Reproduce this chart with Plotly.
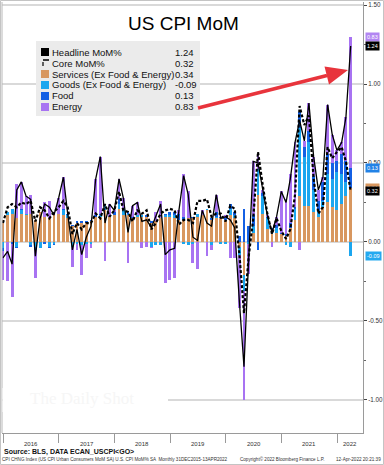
import calendar
import plotly.graph_objects as go

# ---------------- data (Dec 2015 .. Mar 2022, monthly) ----------------
start_year, start_month, n_months = 2015, 12, 76
months = []
yy, mm = start_year, start_month
for _ in range(n_months):
    months.append(f"{yy}-{mm:02d}-{calendar.monthrange(yy, mm)[1]:02d}")
    mm += 1
    if mm > 12:
        mm, yy = 1, yy + 1

services = [0.14, 0.17, 0.18, 0.15, 0.18, 0.17, 0.18, 0.14, 0.19, 0.16, 0.15, 0.17, 0.18,
            0.17, 0.15, 0.10, 0.12, 0.12, 0.12, 0.13, 0.16, 0.16, 0.20, 0.16, 0.17,
            0.21, 0.17, 0.17, 0.15, 0.16, 0.16, 0.16, 0.12, 0.13, 0.15, 0.16, 0.16,
            0.15, 0.14, 0.14, 0.15, 0.15, 0.16, 0.17, 0.20, 0.14, 0.15, 0.15, 0.14,
            0.17, 0.15, -0.03, -0.21, 0.00, 0.06, 0.30, 0.18, 0.08, 0.05, 0.06, 0.05,
            0.04, 0.09, 0.14, 0.29, 0.23, 0.23, 0.19, 0.16, 0.22, 0.25, 0.22, 0.20,
            0.24, 0.29, 0.34]
goods = [-0.04, 0.02, 0.03, -0.03, 0.02, 0.01, -0.02, -0.03, -0.04, 0.00, -0.03, -0.01, 0.00,
         0.03, 0.02, -0.03, -0.01, -0.02, -0.01, -0.01, 0.00, 0.01, 0.04, 0.00, 0.00,
         0.03, 0.04, 0.01, 0.00, 0.01, 0.01, 0.00, -0.03, -0.02, -0.02, 0.01, 0.01,
         0.02, 0.00, -0.01, -0.02, -0.01, 0.02, 0.00, 0.01, -0.02, 0.01, -0.01, -0.01,
         0.04, 0.02, -0.05, -0.10, -0.01, 0.04, 0.16, 0.11, 0.07, 0.01, 0.03, 0.00,
         -0.02, -0.03, 0.07, 0.43, 0.31, 0.40, 0.14, 0.04, 0.04, 0.18, 0.18, 0.24,
         0.19, 0.09, -0.09]
food = [-0.02, 0.00, -0.01, -0.01, 0.01, 0.00, -0.01, -0.02, 0.00, -0.01, -0.01, -0.01, 0.00,
        0.01, 0.01, 0.01, 0.01, 0.01, 0.01, 0.01, 0.01, 0.01, 0.00, 0.00, 0.02,
        0.03, 0.00, 0.01, 0.01, 0.00, 0.00, 0.01, 0.01, 0.00, 0.00, 0.01, 0.02,
        0.02, 0.04, 0.02, 0.00, 0.01, 0.00, 0.00, 0.00, 0.01, 0.03, 0.01, 0.01,
        0.03, 0.02, 0.04, 0.21, 0.10, 0.07, -0.05, 0.02, 0.01, 0.03, 0.02, 0.01,
        0.01, 0.03, 0.01, 0.10, 0.06, 0.07, 0.09, 0.06, 0.12, 0.13, 0.10, 0.07,
        0.13, 0.13, 0.13]
energy = [-0.18, -0.25, -0.34, 0.22, 0.17, 0.11, 0.12, -0.18, 0.00, 0.09, 0.11, 0.02, 0.10,
          0.20, 0.00, -0.13, -0.04, -0.19, -0.09, -0.03, 0.23, 0.36, -0.12, 0.08, 0.01,
          0.13, 0.07, -0.13, 0.07, 0.08, -0.04, -0.03, -0.01, 0.06, 0.11, -0.26, -0.24,
          -0.23, 0.02, 0.27, 0.17, -0.12, -0.17, 0.03, -0.09, -0.03, 0.11, 0.00, 0.02,
          -0.10, -0.10, -0.34, -0.69, -0.19, 0.34, 0.09, 0.02, 0.01, -0.03, 0.05, 0.26,
          0.22, 0.31, 0.41, -0.05, 0.04, 0.18, 0.12, 0.07, 0.03, 0.31, 0.18, 0.07,
          0.07, 0.28, 0.83]
headline = [-0.10, -0.06, -0.14, 0.33, 0.38, 0.29, 0.27, -0.09, 0.15, 0.24, 0.22, 0.17, 0.28,
            0.41, 0.18, -0.05, 0.08, -0.08, 0.03, 0.10, 0.40, 0.54, 0.12, 0.24, 0.20,
            0.40, 0.28, 0.06, 0.23, 0.25, 0.13, 0.14, 0.09, 0.17, 0.24, -0.08, -0.05,
            -0.04, 0.20, 0.42, 0.30, 0.03, 0.01, 0.20, 0.12, 0.10, 0.30, 0.15, 0.16,
            0.14, 0.09, -0.38, -0.79, -0.10, 0.51, 0.50, 0.33, 0.17, 0.06, 0.16, 0.32,
            0.25, 0.40, 0.63, 0.77, 0.64, 0.88, 0.54, 0.33, 0.41, 0.87, 0.68, 0.58,
            0.63, 0.79, 1.24]
core = [0.12, 0.22, 0.24, 0.22, 0.25, 0.24, 0.26, 0.13, 0.22, 0.20, 0.15, 0.19, 0.22,
        0.26, 0.22, 0.05, 0.12, 0.08, 0.12, 0.12, 0.18, 0.15, 0.24, 0.16, 0.20,
        0.32, 0.20, 0.19, 0.13, 0.20, 0.18, 0.20, 0.08, 0.12, 0.18, 0.20, 0.21,
        0.20, 0.11, 0.14, 0.14, 0.12, 0.26, 0.26, 0.27, 0.16, 0.18, 0.18, 0.13,
        0.23, 0.21, -0.08, -0.45, -0.09, 0.15, 0.57, 0.36, 0.18, 0.05, 0.15, 0.07,
        0.02, 0.08, 0.30, 0.86, 0.74, 0.80, 0.40, 0.18, 0.22, 0.60, 0.53, 0.57,
        0.60, 0.51, 0.32]

series_names = ["Headline MoM%", "Core MoM%", "Services (Ex Food & Energy)",
                "Goods (Ex Food & Energy)", "Food", "Energy"]
last_values = ["1.24", "0.32", "0.34", "-0.09", "0.13", "0.83"]
year_labels = ["2016", "2017", "2018", "2019", "2020", "2021", "2022"]
year_label_pos = ["2016-07-02", "2017-07-02", "2018-07-02", "2019-07-02",
                  "2020-07-02", "2021-07-02", "2022-03-28"]
y_ticks = [-1.0, -0.5, 0.0, 0.5, 1.0, 1.5]

# ---------------- styling ----------------
C_SERV = "#D8975F"
C_GOODS = "#1BA6EF"
C_FOOD = "#1460E4"
C_ENERGY = "#A873F2"
FONT = "Liberation Sans"

W, H = 384, 465
PL, PR, PT, PB = 2, 363, 2, 433   # plot area in pixels


def px(x):
    return (x - PL) / (PR - PL)


def py(y):
    return (PB - y) / (PB - PT)


bar_w = 19 * 86400000

fig = go.Figure()
for name, vals, col in [(series_names[2], services, C_SERV),
                        (series_names[3], goods, C_GOODS),
                        (series_names[4], food, C_FOOD),
                        (series_names[5], energy, C_ENERGY)]:
    fig.add_trace(go.Bar(x=months, y=vals, name=name, marker_color=col,
                         marker_line_width=0, width=bar_w, showlegend=False))

fig.add_trace(go.Scatter(x=months, y=headline, mode="lines", name=series_names[0],
                         line=dict(color="black", width=1.3), showlegend=False))
fig.add_trace(go.Scatter(x=months, y=core, mode="lines", name=series_names[1],
                         line=dict(color="black", width=2.2, dash="3px,2px"),
                         showlegend=False))

shapes = []
ann = []

# outer border and left frame
shapes.append(dict(type="rect", xref="paper", yref="paper", x0=px(0.5), x1=px(383.5),
                   y0=py(0.5), y1=py(464.5), line=dict(color="#c4c4c4", width=1),
                   layer="above"))
shapes.append(dict(type="line", xref="paper", yref="paper", x0=px(2), x1=px(2),
                   y0=py(PT), y1=py(PB), line=dict(color="#b8b8b8", width=1)))

# watermark box covering gridline
shapes.append(dict(type="rect", xref="paper", yref="paper", x0=px(2.5), x1=px(168),
                   y0=py(412), y1=py(388), fillcolor="white", line=dict(width=0),
                   layer="above"))
ann.append(dict(text="The Daily Shot", xref="paper", yref="paper", x=px(28), y=py(398),
                xanchor="left", yanchor="middle", showarrow=False,
                font=dict(family="Liberation Serif", size=17, color="#f6f6f6")))

# legend box
shapes.append(dict(type="rect", xref="paper", yref="paper", x0=px(36), x1=px(200),
                   y0=py(116), y1=py(41), fillcolor="#EBEBEB", line=dict(width=0),
                   layer="above"))
row_y = [52, 63, 74, 85, 96, 107]
sw_cols = ["black", None, C_SERV, C_GOODS, C_FOOD, C_ENERGY]
for i in range(6):
    yc = row_y[i]
    if sw_cols[i] is not None:
        shapes.append(dict(type="rect", xref="paper", yref="paper", x0=px(41), x1=px(49),
                           y0=py(yc + 4), y1=py(yc - 4), fillcolor=sw_cols[i],
                           line=dict(width=0), layer="above"))
    else:
        shapes.append(dict(type="line", xref="paper", yref="paper", x0=px(43), x1=px(49),
                           y0=py(yc - 3), y1=py(yc - 3),
                           line=dict(color="black", width=1.5), layer="above"))
        shapes.append(dict(type="line", xref="paper", yref="paper", x0=px(43), x1=px(43),
                           y0=py(yc - 1), y1=py(yc + 3),
                           line=dict(color="black", width=1.2), layer="above"))
    ann.append(dict(text=series_names[i], xref="paper", yref="paper", x=px(51), y=py(yc),
                    xanchor="left", yanchor="middle", showarrow=False, borderpad=0,
                    font=dict(family=FONT, size=9.5, color="#111")))
    ann.append(dict(text=last_values[i], xref="paper", yref="paper", x=px(174), y=py(yc),
                    xanchor="left", yanchor="middle", showarrow=False, borderpad=0,
                    font=dict(family=FONT, size=9.5, color="#111")))

# title
ann.append(dict(text="US CPI MoM", xref="paper", yref="paper", x=px(183), y=py(23),
                xanchor="center", yanchor="middle", showarrow=False,
                font=dict(family=FONT, size=19, color="black")))

# red arrow
tail = (198, 108)
base = (327, 75.5)
shapes.append(dict(type="line", xref="paper", yref="paper", x0=px(tail[0]), y0=py(tail[1]),
                   x1=px(base[0]), y1=py(base[1]), line=dict(color="#E8343C", width=3.5),
                   layer="above"))
tri = [(348, 70), (329, 84.5), (324.5, 66.5)]
path = "M {} {} L {} {} L {} {} Z".format(px(tri[0][0]), py(tri[0][1]), px(tri[1][0]),
                                           py(tri[1][1]), px(tri[2][0]), py(tri[2][1]))
shapes.append(dict(type="path", xref="paper", yref="paper", path=path,
                   fillcolor="#E8343C", line=dict(width=0), layer="above"))

# right-side value tags
tag_specs = [(energy[-1] + food[-1] + services[-1], last_values[5], "#B286F2"),
             (headline[-1], last_values[0], "#000000"),
             (services[-1] + food[-1], last_values[4], "#2282E6"),
             (services[-1], last_values[2], C_SERV),
             (core[-1], last_values[1], "#000000"),
             (goods[-1], last_values[3], "#24A9F0")]
for yv, txt, col in tag_specs:
    ann.append(dict(text=txt, xref="paper", yref="y", x=px(365), y=yv, xanchor="left",
                    yanchor="middle", showarrow=False, bgcolor=col, borderpad=1,
                    font=dict(family=FONT, size=5.5, color="white")))

# year labels
for lab, pos in zip(year_labels, year_label_pos):
    ann.append(dict(text=lab, xref="x", yref="paper", x=pos, y=py(444), xanchor="center",
                    yanchor="middle", showarrow=False,
                    font=dict(family=FONT, size=6, color="#333")))

# footer
ann.append(dict(text="<b>Source: BLS, DATA ECAN_USCPI&lt;GO&gt;</b>", xref="paper",
                yref="paper", x=px(2), y=py(451.5), xanchor="left", yanchor="middle",
                showarrow=False, font=dict(family=FONT, size=7, color="#111")))
ann.append(dict(text="CPI CHNG Index (US CPI Urban Consumers MoM SA) U.S. CPI MoM% SA  "
                     "Monthly 31DEC2015-13APR2022",
                xref="paper", yref="paper", x=px(0), y=py(459.5), xanchor="left",
                yanchor="middle", showarrow=False,
                font=dict(family=FONT, size=4.6, color="#333")))
ann.append(dict(text="Copyright\u00a9 2022 Bloomberg Finance L.P.", xref="paper",
                yref="paper", x=px(238), y=py(459.5), xanchor="left", yanchor="middle",
                showarrow=False, font=dict(family=FONT, size=4.6, color="#333")))
ann.append(dict(text="12-Apr-2022 20:21:39", xref="paper", yref="paper", x=px(383),
                y=py(459.5), xanchor="right", yanchor="middle", showarrow=False,
                font=dict(family=FONT, size=4.6, color="#333")))

fig.update_layout(
    width=W, height=H,
    margin=dict(l=PL, r=W - PR, t=PT, b=H - PB, autoexpand=False),
    paper_bgcolor="white", plot_bgcolor="white",
    barmode="relative", bargap=0,
    showlegend=False,
    shapes=shapes, annotations=ann,
    xaxis=dict(range=["2015-12-25", "2022-06-20"], type="date", showgrid=False,
               zeroline=False, showline=True, linecolor="#9a9a9a", linewidth=1,
               showticklabels=False, ticks="", automargin=False,
               minor=dict(ticks="outside", tickmode="array",
                          tickvals=["2016-01-01", "2017-01-01", "2018-01-01", "2019-01-01",
                                    "2020-01-01", "2021-01-01", "2022-01-01"],
                          ticklen=9, tickcolor="#9a9a9a", tickwidth=1)),
    yaxis=dict(range=[-1.209, 1.519], side="right", tickmode="array", tickvals=y_ticks,
               ticktext=[f"{v:.2f}" for v in y_ticks], showgrid=True, automargin=False,
               gridcolor="#d9d9d9", gridwidth=1.5, zeroline=False, showline=True,
               linecolor="#9a9a9a", linewidth=1, ticks="outside", ticklen=3,
               tickcolor="#444", tickfont=dict(family=FONT, size=6.3, color="#333"),
               minor=dict(ticks="outside", tickmode="array",
                          tickvals=[-0.75, -0.25, 0.25, 0.75, 1.25], ticklen=2,
                          tickcolor="#666")),
)

fig.write_html("out.html",
               config={"displayModeBar": False, "staticPlot": True},
               post_script="document.body.style.margin='0';"
                           "document.body.style.padding='0';"
                           "document.body.style.overflow='hidden';")
